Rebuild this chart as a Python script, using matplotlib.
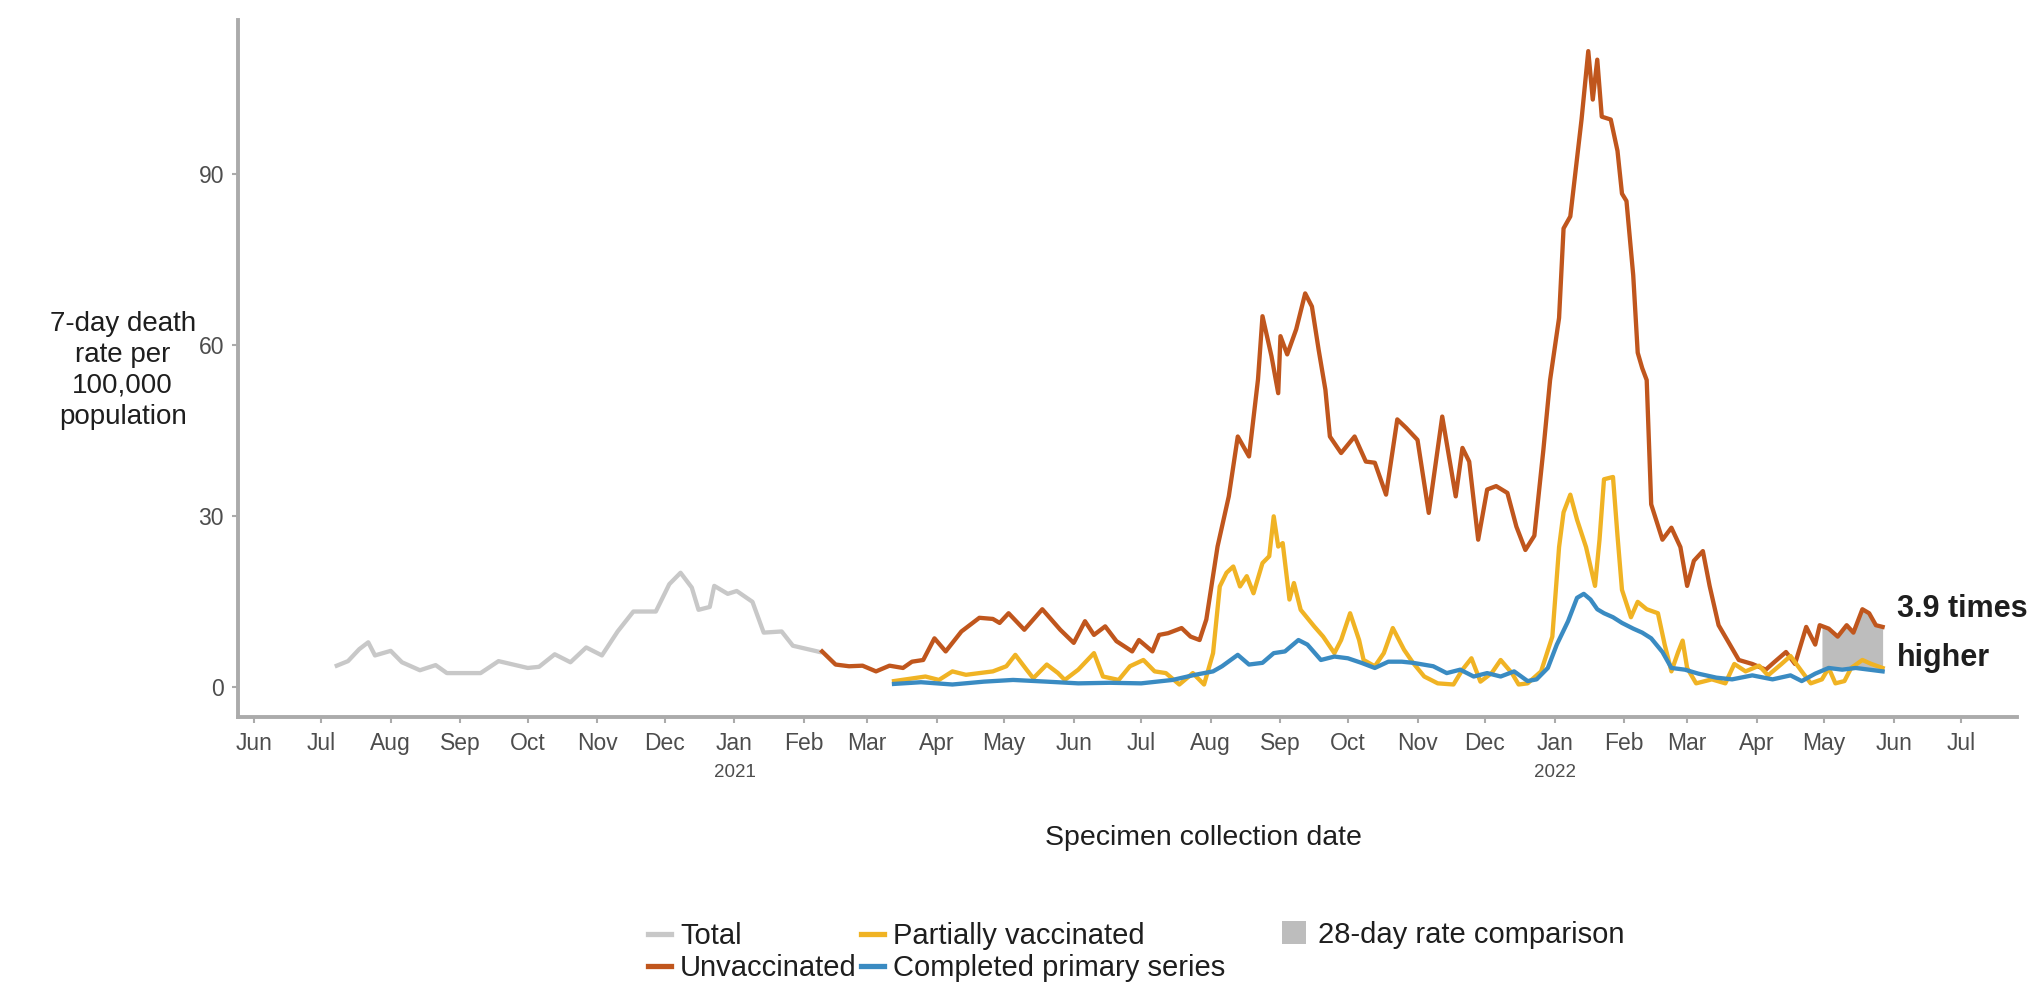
import numpy as np
import pandas as pd
import matplotlib
matplotlib.use("Agg")
import matplotlib.pyplot as plt
import matplotlib.dates as mdates
import matplotlib.transforms as mtransforms
from matplotlib.lines import Line2D
from matplotlib.patches import Patch

plt.rcParams['font.family'] = ['Liberation Sans', 'DejaVu Sans']

# Total (all people), 7-day death rate per 100,000
total_dates = ['2020-07-08', '2020-07-13', '2020-07-18', '2020-07-22', '2020-07-25', '2020-08-01',
               '2020-08-06', '2020-08-14', '2020-08-21', '2020-08-26', '2020-09-10', '2020-09-18',
               '2020-10-01', '2020-10-06', '2020-10-13', '2020-10-20', '2020-10-27', '2020-11-03',
               '2020-11-10', '2020-11-17', '2020-11-27', '2020-12-03', '2020-12-08', '2020-12-13',
               '2020-12-16', '2020-12-21', '2020-12-23', '2020-12-29', '2021-01-02', '2021-01-09',
               '2021-01-14', '2021-01-22', '2021-01-27', '2021-02-08']
total_rate = [3.7, 4.5, 6.6, 7.8, 5.5, 6.3,
              4.3, 2.9, 3.8, 2.4, 2.4, 4.5,
              3.3, 3.5, 5.7, 4.3, 6.9, 5.5,
              9.7, 13.2, 13.2, 18.0, 20.0, 17.4,
              13.5, 14.0, 17.7, 16.3, 16.8, 14.9,
              9.5, 9.7, 7.2, 6.1]

# Unvaccinated
unvax_dates = ['2021-02-09', '2021-02-15', '2021-02-21', '2021-02-27', '2021-03-05', '2021-03-11',
               '2021-03-17', '2021-03-21', '2021-03-26', '2021-03-31', '2021-04-05', '2021-04-12',
               '2021-04-20', '2021-04-26', '2021-04-29', '2021-05-03', '2021-05-10', '2021-05-18',
               '2021-05-26', '2021-06-01', '2021-06-06', '2021-06-10', '2021-06-15', '2021-06-20',
               '2021-06-27', '2021-06-30', '2021-07-06', '2021-07-09', '2021-07-13', '2021-07-19',
               '2021-07-23', '2021-07-27', '2021-07-30', '2021-08-04', '2021-08-09', '2021-08-13',
               '2021-08-18', '2021-08-22', '2021-08-24', '2021-08-28', '2021-08-31', '2021-09-01',
               '2021-09-04', '2021-09-08', '2021-09-12', '2021-09-15', '2021-09-18', '2021-09-21',
               '2021-09-23', '2021-09-28', '2021-10-04', '2021-10-09', '2021-10-13', '2021-10-18',
               '2021-10-23', '2021-10-27', '2021-11-01', '2021-11-06', '2021-11-12', '2021-11-18',
               '2021-11-21', '2021-11-24', '2021-11-28', '2021-12-02', '2021-12-06', '2021-12-11',
               '2021-12-15', '2021-12-19', '2021-12-23', '2021-12-27', '2021-12-30', '2022-01-03',
               '2022-01-05', '2022-01-08', '2022-01-10', '2022-01-13', '2022-01-16', '2022-01-18',
               '2022-01-20', '2022-01-22', '2022-01-26', '2022-01-29', '2022-01-31', '2022-02-02',
               '2022-02-05', '2022-02-07', '2022-02-09', '2022-02-11', '2022-02-13', '2022-02-18',
               '2022-02-22', '2022-02-26', '2022-03-01', '2022-03-04', '2022-03-08', '2022-03-11',
               '2022-03-15', '2022-03-19', '2022-03-24', '2022-03-30', '2022-04-05', '2022-04-09',
               '2022-04-14', '2022-04-18', '2022-04-23', '2022-04-27', '2022-04-29', '2022-05-03',
               '2022-05-07', '2022-05-11', '2022-05-14', '2022-05-18', '2022-05-21', '2022-05-24',
               '2022-05-27']
unvax_rate = [6.2, 3.9, 3.6, 3.7, 2.7, 3.7,
              3.3, 4.4, 4.7, 8.5, 6.2, 9.7,
              12.1, 11.9, 11.2, 12.9, 10.0, 13.6,
              10.0, 7.7, 11.5, 9.1, 10.6, 8.0,
              6.2, 8.2, 6.2, 9.1, 9.4, 10.3,
              8.8, 8.2, 11.8, 24.6, 33.4, 43.9,
              40.4, 53.9, 65.0, 58.0, 51.5, 61.5,
              58.3, 62.7, 69.0, 66.7, 59.1, 52.1,
              43.9, 41.0, 43.9, 39.5, 39.3, 33.7,
              46.9, 45.4, 43.3, 30.5, 47.4, 33.4,
              41.9, 39.5, 25.8, 34.6, 35.2, 34.0,
              28.1, 24.0, 26.5, 41.5, 53.8, 64.7,
              80.4, 82.5, 89.3, 99.5, 111.5, 103.0,
              110.0, 100.0, 99.5, 94.0, 86.5, 85.2,
              72.2, 58.6, 55.9, 53.8, 32.0, 25.8,
              27.9, 24.5, 17.7, 22.1, 23.8, 17.7,
              10.8, 8.1, 4.7, 4.0, 3.0, 4.4,
              6.1, 4.0, 10.5, 7.4, 10.8, 10.2,
              8.8, 10.8, 9.5, 13.6, 12.9, 10.8,
              10.5]

# Partially vaccinated
partial_dates = ['2021-03-13', '2021-03-27', '2021-04-02', '2021-04-08', '2021-04-14', '2021-04-20',
                 '2021-04-26', '2021-05-02', '2021-05-06', '2021-05-11', '2021-05-14', '2021-05-20',
                 '2021-05-25', '2021-05-28', '2021-06-03', '2021-06-10', '2021-06-14', '2021-06-21',
                 '2021-06-26', '2021-07-02', '2021-07-07', '2021-07-12', '2021-07-18', '2021-07-24',
                 '2021-07-29', '2021-08-02', '2021-08-05', '2021-08-08', '2021-08-11', '2021-08-14',
                 '2021-08-17', '2021-08-20', '2021-08-24', '2021-08-27', '2021-08-29', '2021-08-31',
                 '2021-09-02', '2021-09-05', '2021-09-07', '2021-09-10', '2021-09-16', '2021-09-20',
                 '2021-09-25', '2021-09-28', '2021-10-02', '2021-10-06', '2021-10-08', '2021-10-13',
                 '2021-10-17', '2021-10-21', '2021-10-26', '2021-10-30', '2021-11-04', '2021-11-10',
                 '2021-11-17', '2021-11-21', '2021-11-25', '2021-11-29', '2021-12-04', '2021-12-08',
                 '2021-12-13', '2021-12-16', '2021-12-20', '2021-12-26', '2021-12-31', '2022-01-03',
                 '2022-01-05', '2022-01-08', '2022-01-11', '2022-01-15', '2022-01-19', '2022-01-21',
                 '2022-01-23', '2022-01-27', '2022-01-29', '2022-01-31', '2022-02-04', '2022-02-07',
                 '2022-02-11', '2022-02-16', '2022-02-19', '2022-02-22', '2022-02-25', '2022-02-27',
                 '2022-03-01', '2022-03-05', '2022-03-12', '2022-03-18', '2022-03-22', '2022-03-27',
                 '2022-04-02', '2022-04-06', '2022-04-12', '2022-04-16', '2022-04-21', '2022-04-25',
                 '2022-04-30', '2022-05-03', '2022-05-06', '2022-05-10', '2022-05-13', '2022-05-18',
                 '2022-05-22', '2022-05-27']
partial_rate = [1.0, 1.8, 1.2, 2.7, 2.1, 2.4,
                2.7, 3.6, 5.6, 3.0, 1.5, 3.9,
                2.4, 1.2, 3.0, 5.9, 1.8, 1.2,
                3.6, 4.7, 2.7, 2.4, 0.4, 2.4,
                0.4, 5.9, 17.6, 20.0, 21.1, 17.6,
                19.4, 16.4, 21.7, 22.9, 29.9, 24.6,
                25.2, 15.3, 18.2, 13.5, 10.6, 8.8,
                5.9, 8.2, 12.9, 8.2, 4.7, 3.6,
                5.9, 10.3, 6.5, 4.2, 1.8, 0.6,
                0.4, 3.0, 5.0, 0.9, 2.4, 4.7,
                2.4, 0.4, 0.6, 2.7, 8.8, 24.5,
                30.6, 33.7, 29.3, 24.5, 17.7, 25.8,
                36.4, 36.8, 26.5, 17.0, 12.2, 14.9,
                13.6, 12.9, 7.4, 2.7, 6.1, 8.1,
                3.3, 0.6, 1.3, 0.6, 4.0, 2.7,
                3.7, 2.0, 4.0, 5.4, 2.7, 0.6,
                1.3, 3.3, 0.6, 1.0, 3.3, 4.7,
                4.0, 3.3]

# Completed primary series
complete_dates = ['2021-03-13', '2021-03-25', '2021-04-08', '2021-04-22', '2021-05-05', '2021-05-20',
                  '2021-06-03', '2021-06-17', '2021-07-01', '2021-07-15', '2021-07-25', '2021-08-02',
                  '2021-08-06', '2021-08-13', '2021-08-18', '2021-08-24', '2021-08-29', '2021-09-03',
                  '2021-09-09', '2021-09-13', '2021-09-19', '2021-09-25', '2021-10-01', '2021-10-07',
                  '2021-10-13', '2021-10-19', '2021-10-25', '2021-10-30', '2021-11-08', '2021-11-14',
                  '2021-11-20', '2021-11-26', '2021-12-02', '2021-12-08', '2021-12-14', '2021-12-20',
                  '2021-12-24', '2021-12-29', '2022-01-02', '2022-01-07', '2022-01-11', '2022-01-14',
                  '2022-01-17', '2022-01-20', '2022-01-23', '2022-01-27', '2022-01-31', '2022-02-05',
                  '2022-02-09', '2022-02-13', '2022-02-18', '2022-02-22', '2022-02-28', '2022-03-06',
                  '2022-03-14', '2022-03-21', '2022-03-30', '2022-04-08', '2022-04-16', '2022-04-21',
                  '2022-04-27', '2022-05-03', '2022-05-09', '2022-05-15', '2022-05-21', '2022-05-27']
complete_rate = [0.5, 0.8, 0.4, 0.9, 1.2, 0.9,
                 0.6, 0.7, 0.6, 1.2, 2.1, 2.7,
                 3.6, 5.6, 3.9, 4.2, 5.9, 6.2,
                 8.2, 7.4, 4.7, 5.3, 5.0, 4.2,
                 3.3, 4.4, 4.4, 4.2, 3.6, 2.4,
                 3.0, 1.8, 2.4, 1.8, 2.7, 1.0,
                 1.3, 3.3, 7.4, 11.5, 15.6, 16.3,
                 15.3, 13.6, 12.9, 12.2, 11.2, 10.2,
                 9.5, 8.5, 6.1, 3.3, 3.0, 2.3,
                 1.6, 1.3, 2.0, 1.3, 2.0, 1.0,
                 2.3, 3.3, 3.0, 3.3, 3.0, 2.7]

# 28-day comparison window
window_start = '2022-04-30'
window_end = '2022-05-27'
ratio_text = ['3.9 times', 'higher']

TOTAL_C = '#C8C8C8'
UNVAX_C = '#C0561D'
PARTIAL_C = '#F0B324'
COMPLETE_C = '#3A8BC2'
FILL_C = '#BDBDBD'
AXIS_C = '#ABABAB'
TICK_TXT = '#4D4D4D'
TXT = '#1E1E1E'

fig = plt.figure(figsize=(20.44, 9.88), dpi=100)
ax = fig.add_axes([0.1164, 0.2743, 0.8706, 0.7057])

td = pd.to_datetime(total_dates)
ud = pd.to_datetime(unvax_dates)
pdd = pd.to_datetime(partial_dates)
cd = pd.to_datetime(complete_dates)

# shaded comparison region between completed and unvaccinated lines
win = pd.date_range(window_start, window_end, freq='D')
wn = mdates.date2num(win)
upper = np.interp(wn, mdates.date2num(ud), unvax_rate)
lower = np.interp(wn, mdates.date2num(cd), complete_rate)
ax.fill_between(win, lower, upper, color=FILL_C, lw=0, zorder=1)

lw = 3.1
ax.plot(td, total_rate, color=TOTAL_C, lw=lw, zorder=2, solid_joinstyle='round')
ax.plot(ud, unvax_rate, color=UNVAX_C, lw=lw, zorder=3, solid_joinstyle='round')
ax.plot(pdd, partial_rate, color=PARTIAL_C, lw=lw, zorder=4, solid_joinstyle='round')
ax.plot(cd, complete_rate, color=COMPLETE_C, lw=lw, zorder=5, solid_joinstyle='round')

ax.set_xlim(pd.Timestamp('2020-05-25'), pd.Timestamp('2022-07-26'))
ax.set_ylim(-5.3, 117)

months = pd.date_range('2020-06-01', '2022-07-01', freq='MS')
ax.set_xticks(months)
ax.set_xticklabels([m.strftime('%b') for m in months])
ax.set_yticks([0, 30, 60, 90])

for s in ['top', 'right']:
    ax.spines[s].set_visible(False)
for s in ['left', 'bottom']:
    ax.spines[s].set_color(AXIS_C)
    ax.spines[s].set_linewidth(2.8)
ax.tick_params(axis='both', colors=AXIS_C, labelcolor=TICK_TXT, length=4, width=1.5,
               labelsize=16.5)
ax.tick_params(axis='x', pad=7)
ax.tick_params(axis='y', pad=6)

# year labels under January
blend = mtransforms.blended_transform_factory(ax.transData, ax.transAxes)
for yr in ['2021', '2022']:
    ax.text(pd.Timestamp(yr + '-01-01'), -0.079, yr, transform=blend, ha='center', va='center',
            fontsize=13.5, color=TICK_TXT)

fig.text(0.0600, 0.6255, '7-day death\nrate per\n100,000\npopulation', ha='center', va='center',
         fontsize=20, color=TXT, linespacing=1.25)
fig.text(0.589, 0.152, 'Specimen collection date', ha='center', va='center',
         fontsize=20.5, color=TXT)

fig.text(0.928, 0.3836, ratio_text[0], ha='left', va='center', fontsize=22,
         fontweight='bold', color=TXT)
fig.text(0.928, 0.334, ratio_text[1], ha='left', va='center', fontsize=22,
         fontweight='bold', color=TXT)

# legend: four line keys in two columns, the shaded window on its own
line_handles = [Line2D([], [], color=TOTAL_C, lw=3.8),
                Line2D([], [], color=UNVAX_C, lw=3.8),
                Line2D([], [], color=PARTIAL_C, lw=3.8),
                Line2D([], [], color=COMPLETE_C, lw=3.8)]
line_labels = ['Total', 'Unvaccinated', 'Partially vaccinated', 'Completed primary series']
leg1 = fig.legend(line_handles, line_labels, loc='center left', bbox_to_anchor=(0.317, 0.0364),
                  ncol=2, frameon=False, fontsize=21, handlelength=0.8, handletextpad=0.3,
                  columnspacing=0.13, labelspacing=0.15, borderpad=0, borderaxespad=0)
leg2 = fig.legend([Patch(facecolor=FILL_C, edgecolor='none')], ['28-day rate comparison'],
                  loc='center left', bbox_to_anchor=(0.627, 0.0537), frameon=False,
                  fontsize=21, handlelength=0.85, handleheight=0.85, handletextpad=0.4,
                  borderpad=0, borderaxespad=0)
for leg in (leg1, leg2):
    for t in leg.get_texts():
        t.set_color(TXT)

fig.savefig('out.png', dpi=100)
